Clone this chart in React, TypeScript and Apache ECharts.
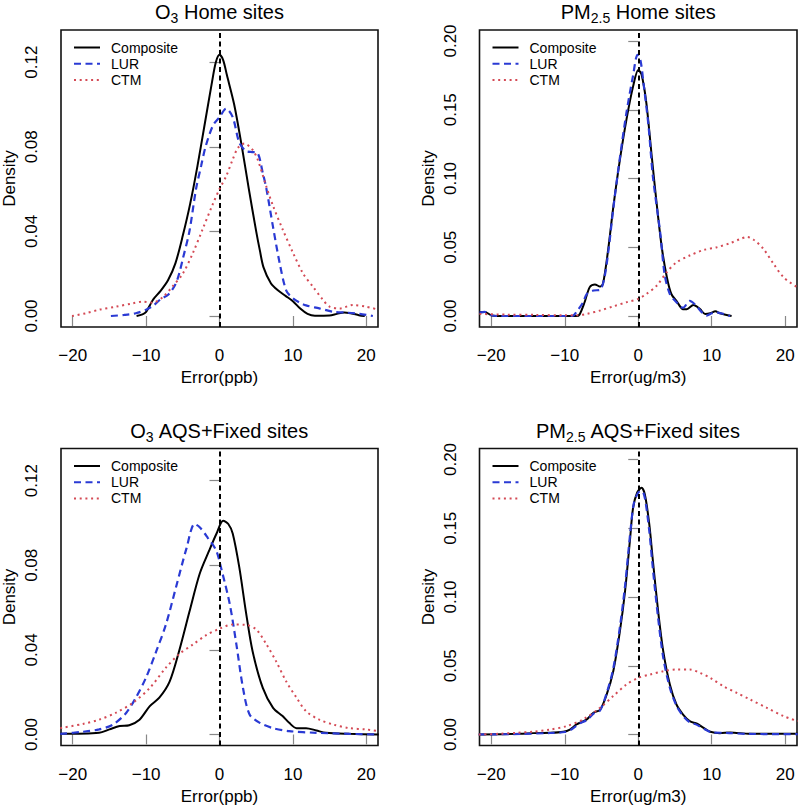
import React, { useEffect, useRef } from "react";
import * as echarts from "echarts";

const FONT = "'Liberation Sans', Arial, Helvetica, sans-serif";

const seriesNames = ["Composite", "LUR", "CTM"];
const xTicks = [-20, -10, 0, 10, 20];
const o3YTicks = [0, 0.04, 0.08, 0.12];
const pmYTicks = [0, 0.05, 0.1, 0.15, 0.2];

// ---------- O3 Home sites ----------
const o3HomeComposite: number[][] = [
  [-11.3, 0], [-10.5, 0.0008], [-10, 0.002], [-9.5, 0.005], [-9, 0.008], [-8, 0.012], [-7, 0.017],
  [-6, 0.025], [-5, 0.038], [-4, 0.053], [-3, 0.071], [-2, 0.091], [-1, 0.111], [-0.5, 0.12],
  [0, 0.1235], [0.5, 0.121], [1, 0.114], [2, 0.1], [3, 0.081], [4, 0.06], [5, 0.04], [5.5, 0.031],
  [6, 0.023], [7, 0.0155], [8, 0.012], [9, 0.0095], [10, 0.007], [11, 0.0035], [12, 0.001],
  [13, 0.0001], [15, 0.0002], [16, 0.001], [17, 0.0017], [18, 0.0012], [19, 0.0004], [19.8, 0],
];
const o3HomeLUR: number[][] = [
  [-14.8, 0], [-13, 0.0005], [-11.4, 0.0013], [-10, 0.003], [-9, 0.005], [-8, 0.008], [-7, 0.01],
  [-6, 0.015], [-5.5, 0.02], [-5, 0.027], [-4.1, 0.04], [-3.2, 0.06], [-2.5, 0.071], [-1.9, 0.08],
  [-0.9, 0.09], [0, 0.094], [0.9, 0.098], [1.8, 0.094], [2.7, 0.082], [3.6, 0.078], [4.5, 0.0775],
  [5.2, 0.077], [5.9, 0.0676], [6.4, 0.06], [7.3, 0.042], [8.2, 0.025], [9.1, 0.012], [10, 0.0084],
  [11, 0.0062], [11.8, 0.005], [13.6, 0.0036], [15.5, 0.002], [17.3, 0.0016], [19.1, 0.001], [20.9, 0],
];
const o3HomeCTM: number[][] = [
  [-20.1, 0], [-18.2, 0.0013], [-16.4, 0.003], [-14.1, 0.0044], [-11.8, 0.006], [-10.5, 0.0068],
  [-9.1, 0.0063], [-7.7, 0.009], [-6.4, 0.014], [-5, 0.02], [-3.6, 0.03], [-2.3, 0.041], [-0.9, 0.053],
  [0, 0.06], [0.9, 0.066], [1.8, 0.074], [2.5, 0.0794], [3.4, 0.0815], [4.5, 0.0786], [5.2, 0.074],
  [6.4, 0.061], [7.3, 0.052], [8.6, 0.041], [10, 0.03], [11.4, 0.02], [12.7, 0.014], [14.1, 0.0076],
  [15, 0.0044], [16.4, 0.0036], [18.2, 0.0052], [20, 0.0044], [21.6, 0.003],
];

// ---------- PM2.5 Home sites ----------
const pmHomeComposite: number[][] = [
  [-21.6, 0.0027], [-20.9, 0.003], [-20, 0.0005], [-19.3, 0], [-8.4, 0], [-8, 0.001], [-7.3, 0.01],
  [-6.6, 0.021], [-5.9, 0.023], [-5.2, 0.0214], [-4.8, 0.0234], [-4.1, 0.048], [-3.4, 0.079],
  [-2.5, 0.1135], [-1.6, 0.143], [-0.7, 0.167], [0, 0.179], [0.45, 0.1756], [1.1, 0.155], [1.8, 0.118],
  [2.5, 0.082], [3.2, 0.05], [3.9, 0.028], [4.5, 0.016], [5.2, 0.011], [6.1, 0.005], [6.6, 0.005],
  [7.5, 0.008], [8.4, 0.005], [9.1, 0.0015], [9.8, 0.002], [10.5, 0.0034], [11.1, 0.002], [12.7, 0],
];
const pmHomeLUR: number[][] = [
  [-21.6, 0.0025], [-20.9, 0.003], [-20, 0.0005], [-19.3, 0], [-9, 0], [-8.4, 0.003], [-7.5, 0.01],
  [-7, 0.016], [-6.1, 0.0185], [-5.2, 0.019], [-4.6, 0.028], [-4, 0.05], [-3.4, 0.078], [-2.5, 0.115],
  [-1.6, 0.148], [-0.7, 0.175], [-0.1, 0.19], [0.3, 0.186], [0.7, 0.17], [1.4, 0.138], [2, 0.101],
  [3, 0.06], [3.6, 0.03], [4.3, 0.016], [5.2, 0.01], [6.1, 0.006], [7, 0.011], [7.8, 0.008],
  [8.6, 0.003], [9.3, 0.0003], [10, 0.002], [10.5, 0.0027], [11.6, 0.0015], [12.5, 0],
];
const pmHomeCTM: number[][] = [
  [-21.6, 0.0015], [-18, 0.001], [-14, 0.0008], [-10, 0.0005], [-8.4, 0.0005], [-7, 0.0015],
  [-5.2, 0.004], [-3.4, 0.007], [-1.6, 0.01], [0, 0.0124], [1.1, 0.016], [2.5, 0.022], [3.9, 0.032],
  [5.2, 0.039], [7, 0.044], [8.9, 0.048], [10.7, 0.05], [12.5, 0.053], [13.9, 0.056], [14.8, 0.0575],
  [15.7, 0.0555], [17, 0.049], [18.4, 0.038], [19.8, 0.028], [21.6, 0.021],
];

// ---------- O3 AQS+Fixed sites ----------
const o3FixedComposite: number[][] = [
  [-21.7, 0.0003], [-16.4, 0.0008], [-15, 0.0024], [-13.6, 0.004], [-12.3, 0.0044], [-10.9, 0.007],
  [-9.5, 0.0134], [-8.2, 0.0174], [-6.8, 0.025], [-5.5, 0.0395], [-4.1, 0.058], [-2.7, 0.076],
  [-1.4, 0.087], [-0.4, 0.095], [0.5, 0.101], [1.2, 0.0995], [1.8, 0.095], [2.7, 0.079], [3.6, 0.058],
  [4.5, 0.0395], [5.9, 0.022], [7.3, 0.0126], [8.6, 0.0087], [9.5, 0.0055], [10.5, 0.003],
  [11.8, 0.003], [13.2, 0.0019], [14.5, 0.0008], [17.7, 0.0003], [21.7, 0],
];
const o3FixedLUR: number[][] = [
  [-21.7, 0.0003], [-18.6, 0.0013], [-16.4, 0.0024], [-14.5, 0.0047], [-12.7, 0.0103], [-11.4, 0.0174],
  [-10, 0.027], [-8.6, 0.0395], [-7.3, 0.052], [-5.9, 0.07], [-4.5, 0.088], [-3.4, 0.0995],
  [-2.7, 0.098], [-1.6, 0.093], [-0.45, 0.087], [0.2, 0.079], [1.4, 0.0616], [2.3, 0.0426],
  [3.2, 0.022], [4.1, 0.0095], [5.5, 0.0055], [7.3, 0.003], [9.5, 0.0016], [13.2, 0.0008],
  [17.7, 0.0003], [21.7, 0],
];
const o3FixedCTM: number[][] = [
  [-21.7, 0.003], [-18.6, 0.005], [-16.4, 0.007], [-14.1, 0.0103], [-11.8, 0.015], [-9.5, 0.022],
  [-7.3, 0.0316], [-5.5, 0.038], [-3.6, 0.0426], [-1.8, 0.047], [0, 0.05], [1.8, 0.052], [3.6, 0.0518],
  [5, 0.0497], [6.4, 0.0426], [7.7, 0.0347], [9.1, 0.025], [10.5, 0.0174], [11.8, 0.011], [13.6, 0.007],
  [15.5, 0.0047], [17.7, 0.003], [20, 0.0024], [21.7, 0.0016],
];

// ---------- PM2.5 AQS+Fixed sites ----------
const pmFixedComposite: number[][] = [
  [-21.7, 0], [-16.1, 0.0005], [-14.3, 0.001], [-12, 0.0012], [-10.2, 0.002], [-9.3, 0.0036],
  [-8.4, 0.0073], [-7, 0.011], [-6.1, 0.0158], [-5.2, 0.018], [-4.3, 0.029], [-3.4, 0.046],
  [-2.5, 0.075], [-1.8, 0.104], [-1.1, 0.143], [-0.7, 0.165], [-0.14, 0.176], [0.45, 0.1794],
  [0.9, 0.1745], [1.5, 0.153], [2, 0.126], [2.7, 0.09], [3.4, 0.0606], [4.3, 0.0364], [5.2, 0.0218],
  [6.1, 0.0145], [7, 0.0097], [8, 0.0078], [8.9, 0.0048], [9.8, 0.002], [11.1, 0.001], [12.5, 0.0015],
  [15.2, 0.0005], [21.7, 0.0005],
];
const pmFixedLUR: number[][] = [
  [-21.7, 0], [-16, 0.0004], [-12, 0.0011], [-10, 0.0018], [-9, 0.004], [-8, 0.008], [-7, 0.0105],
  [-6, 0.0155], [-5.2, 0.0175], [-4.3, 0.03], [-3.4, 0.048], [-2.5, 0.078], [-1.8, 0.108],
  [-1.1, 0.146], [-0.6, 0.168], [0, 0.176], [0.5, 0.177], [0.9, 0.172], [1.5, 0.148], [2, 0.12],
  [2.7, 0.085], [3.4, 0.056], [4.3, 0.034], [5.2, 0.021], [6.1, 0.0135], [7, 0.009], [8, 0.007],
  [9, 0.004], [10, 0.0015], [12, 0.0012], [15, 0.0004], [21.7, 0.0003],
];
const pmFixedCTM: number[][] = [
  [-21.7, 0], [-18.9, 0.0005], [-16.6, 0.0012], [-14.3, 0.002], [-12, 0.0036], [-9.8, 0.006],
  [-7.5, 0.011], [-5.2, 0.0194], [-3.4, 0.028], [-1.6, 0.0364], [0, 0.0412], [1.6, 0.0436],
  [3.4, 0.046], [5.2, 0.0473], [7, 0.0473], [8.4, 0.0448], [9.8, 0.0412], [11.6, 0.035],
  [13.4, 0.0303], [15.2, 0.0255], [17.5, 0.0194], [19.8, 0.0133], [21.7, 0.0097],
];

const titles = [
  "{n|O}{s|3}{n| Home sites}",
  "{n|PM}{s|2.5}{n| Home sites}",
  "{n|O}{s|3}{n| AQS+Fixed sites}",
  "{n|PM}{s|2.5}{n| AQS+Fixed sites}",
];
const xNames = ["Error(ppb)", "Error(ug/m3)", "Error(ppb)", "Error(ug/m3)"];
const yNames = ["Density", "Density", "Density", "Density"];
const yTickSets = [o3YTicks, pmYTicks, o3YTicks, pmYTicks];
const yLimits = [[0, 0.13], [0, 0.2], [0, 0.13], [0, 0.2]];
const xLimits = [-20, 20];
const panelData = [
  [o3HomeComposite, o3HomeLUR, o3HomeCTM],
  [pmHomeComposite, pmHomeLUR, pmHomeCTM],
  [o3FixedComposite, o3FixedLUR, o3FixedCTM],
  [pmFixedComposite, pmFixedLUR, pmFixedCTM],
];

// layout (pixels)
const GRIDS = [
  { left: 61, top: 30, width: 317, height: 297 },
  { left: 479.5, top: 30, width: 317.5, height: 297 },
  { left: 61, top: 448.5, width: 317, height: 297 },
  { left: 479.5, top: 448.5, width: 317.5, height: 297 },
];

const lineStyles = [
  { color: "#000000", width: 2, type: "solid" as any },
  { color: "#2a3ad4", width: 2.2, type: [7, 4.5] as any },
  { color: "#d44a55", width: 2, type: [2, 3.7] as any },
];

function expand(lim: number[]) {
  const r = lim[1] - lim[0];
  return [lim[0] - 0.04 * r, lim[1] + 0.04 * r];
}

export default function App() {
  const ref = useRef<HTMLDivElement>(null);
  useEffect(() => {
    if (!ref.current) return;
    const chart = echarts.init(ref.current, undefined, { renderer: "svg" });
    const xr = expand(xLimits);
    const grid: any[] = [];
    const xAxis: any[] = [];
    const yAxis: any[] = [];
    const series: any[] = [];
    const legend: any[] = [];
    const graphic: any[] = [];
    GRIDS.forEach((g, i) => {
      const yr = expand(yLimits[i]);
      grid.push({
        ...g,
        show: true,
        borderColor: "#111",
        borderWidth: 1.6,
        backgroundColor: "transparent",
      });
      xAxis.push({
        type: "value",
        gridIndex: i,
        min: xr[0],
        max: xr[1],
        axisLine: { show: false },
        splitLine: { show: false },
        axisTick: {
          show: true,
          length: 10,
          customValues: xTicks,
          lineStyle: { color: "#888", width: 1.2 },
        },
        axisLabel: {
          customValues: xTicks,
          margin: 20,
          fontSize: 17,
          color: "#000",
          fontFamily: FONT,
          formatter: (v: number) => String(v).replace("-", "\u2212"),
        },
        name: xNames[i],
        nameLocation: "middle",
        nameGap: 42,
        nameTextStyle: { fontSize: 17, color: "#000", fontFamily: FONT },
      });
      yAxis.push({
        type: "value",
        gridIndex: i,
        min: yr[0],
        max: yr[1],
        axisLine: { show: false },
        splitLine: { show: false },
        axisTick: {
          show: true,
          length: 10,
          customValues: yTickSets[i],
          lineStyle: { color: "#888", width: 1.2 },
        },
        axisLabel: {
          customValues: yTickSets[i],
          rotate: 90,
          margin: 21,
          fontSize: 17,
          color: "#000",
          fontFamily: FONT,
          formatter: (v: number) => v.toFixed(2),
        },
        name: yNames[i],
        nameLocation: "middle",
        nameGap: 43,
        nameRotate: 90,
        nameTextStyle: { fontSize: 17, color: "#000", fontFamily: FONT },
      });
      panelData[i].forEach((d, k) => {
        const s: any = {
          type: "line",
          name: seriesNames[k],
          xAxisIndex: i,
          yAxisIndex: i,
          data: d,
          symbol: "none",
          showSymbol: false,
          smooth: 0.3,
          clip: true,
          lineStyle: lineStyles[k],
          itemStyle: { color: lineStyles[k].color },
          z: 3 + k,
        };
        if (k === 0) {
          s.markLine = {
            silent: true,
            symbol: ["none", "none"],
            label: { show: false },
            lineStyle: { color: "#000", width: 2, type: [5, 3.5] },
            data: [{ xAxis: 0 }],
          };
        }
        series.push(s);
      });
      legend.push({
        data: seriesNames,
        orient: "vertical",
        left: g.left + 12,
        top: g.top + 10.5,
        padding: 0,
        itemWidth: 26,
        itemHeight: 14,
        itemGap: 2.2,
        selectedMode: false,
        itemStyle: { opacity: 0 },
        textStyle: { fontSize: 14, color: "#000", fontFamily: FONT, padding: [0, 0, 0, 6] },
      });
      graphic.push({
        type: "text",
        x: g.left + g.width / 2,
        y: g.top - 18,
        style: {
          text: titles[i],
          align: "center",
          verticalAlign: "middle",
          fill: "#000",
          rich: {
            n: { fontSize: 20, lineHeight: 26, fontFamily: FONT, fill: "#000", verticalAlign: "middle" },
            s: { fontSize: 14, lineHeight: 14, fontFamily: FONT, fill: "#000", verticalAlign: "bottom" },
          },
        },
      });
    });
    chart.setOption({
      animation: false,
      backgroundColor: "#ffffff",
      grid,
      xAxis,
      yAxis,
      series,
      legend,
      graphic,
    });
    return () => chart.dispose();
  }, []);
  return (
    <div
      ref={ref}
      style={{ position: "absolute", left: 0, top: 0, width: 800, height: 811 }}
    />
  );
}
